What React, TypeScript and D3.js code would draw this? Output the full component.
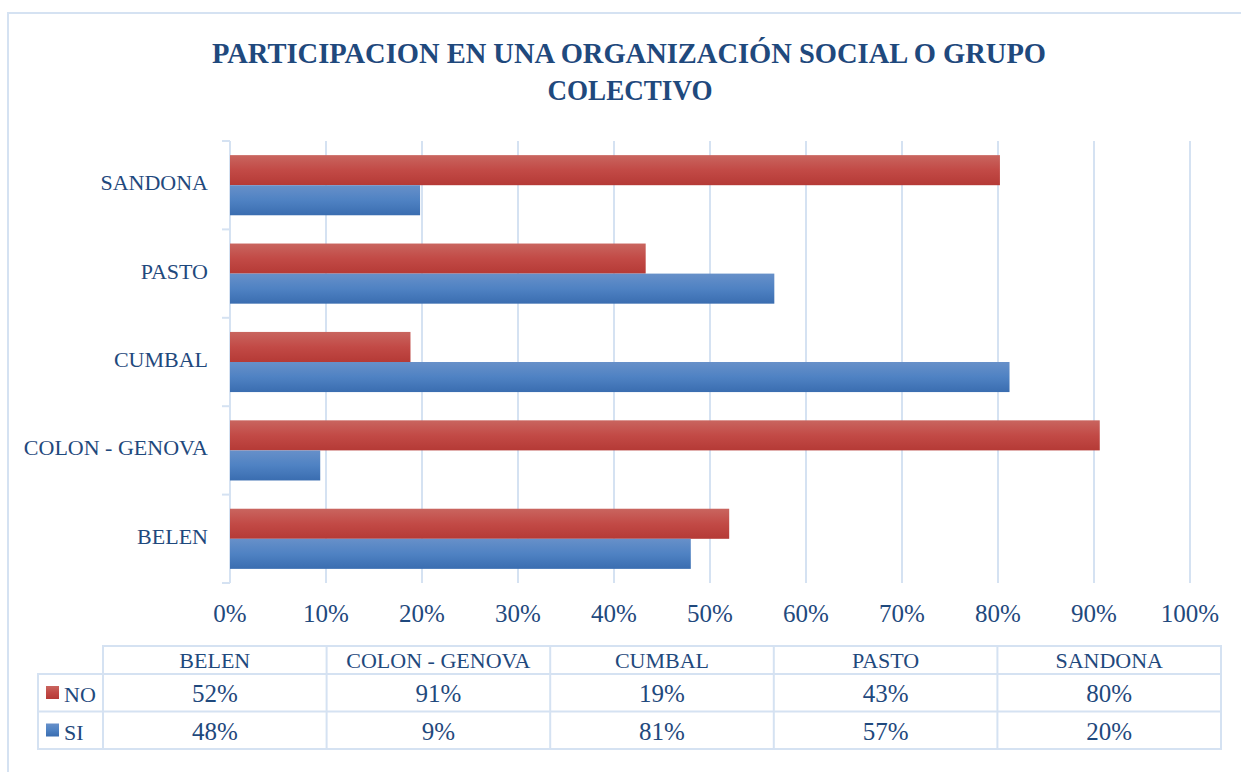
import { useMemo } from "react";
import * as d3 from "d3";

const categories = ["BELEN", "COLON - GENOVA", "CUMBAL", "PASTO", "SANDONA"];
const noValues = [0.52, 0.906, 0.188, 0.433, 0.802];
const siValues = [0.48, 0.094, 0.812, 0.567, 0.198];
const xTicks = [0, 0.1, 0.2, 0.3, 0.4, 0.5, 0.6, 0.7, 0.8, 0.9, 1];

const WIDTH = 1241;
const HEIGHT = 772;
const TEXT = "#1F497D";
const GRID = "#D5E2F2";
const FONT = "'Liberation Serif', 'DejaVu Serif', serif";

const series = [
  { key: "NO", values: noValues, grad: "gradNo" },
  { key: "SI", values: siValues, grad: "gradSi" },
];

const PLOT = { left: 230, right: 1190, top: 141, bottom: 583 };
const TABLE = { left: 103, legendLeft: 38, right: 1221, top: 646, headerH: 28, rowH: 37.5 };

const App = () => {
  const x = useMemo(
    () => d3.scaleLinear().domain([0, 1]).range([PLOT.left, PLOT.right]),
    []
  );
  // categories go bottom to top, like Excel's bar chart
  const y = useMemo(
    () =>
      d3
        .scaleBand<string>()
        .domain([...categories].reverse())
        .range([PLOT.top, PLOT.bottom]),
    []
  );
  const inner = useMemo(
    () => d3.scaleBand<string>().domain(["NO", "SI"]).range([0, y.bandwidth()]).paddingOuter(0.47),
    [y]
  );
  const pct = d3.format(".0%");

  const colW = (TABLE.right - TABLE.left) / categories.length;
  const colX = (i: number) => TABLE.left + i * colW;

  return (
    <svg
      width={WIDTH}
      height={HEIGHT}
      style={{ position: "absolute", left: 0, top: 0, background: "#fff" }}
      fontFamily={FONT}
    >
      <defs>
        <linearGradient id="gradNo" x1="0" y1="0" x2="0" y2="1">
          <stop offset="0%" stopColor="#C9655F" />
          <stop offset="50%" stopColor="#C24A46" />
          <stop offset="100%" stopColor="#B53A36" />
        </linearGradient>
        <linearGradient id="gradSi" x1="0" y1="0" x2="0" y2="1">
          <stop offset="0%" stopColor="#6790C9" />
          <stop offset="50%" stopColor="#4F82C3" />
          <stop offset="100%" stopColor="#3A6DB0" />
        </linearGradient>
      </defs>

      {/* chart area border */}
      <rect x={8} y={13} width={WIDTH} height={HEIGHT} fill="none" stroke={GRID} strokeWidth={2} />

      <text textAnchor="middle" fontWeight={700} fontSize={30} fill={TEXT}>
        <tspan x={629} y={63} textLength={834} lengthAdjust="spacingAndGlyphs">
          PARTICIPACION EN UNA ORGANIZACIÓN SOCIAL O GRUPO
        </tspan>
        <tspan x={630} y={100} textLength={165} lengthAdjust="spacingAndGlyphs">
          COLECTIVO
        </tspan>
      </text>

      {/* gridlines */}
      {xTicks.map((t) => (
        <line key={t} x1={x(t)} x2={x(t)} y1={PLOT.top} y2={PLOT.bottom} stroke={GRID} strokeWidth={2} />
      ))}
      {/* category ticks */}
      {[...categories].reverse().map((c, i) => (
        <line key={c} x1={222} x2={PLOT.left} y1={PLOT.top + i * y.step()} y2={PLOT.top + i * y.step()} stroke={GRID} strokeWidth={2} />
      ))}
      <line x1={222} x2={PLOT.left} y1={PLOT.bottom} y2={PLOT.bottom} stroke={GRID} strokeWidth={2} />

      {/* bars */}
      {series.map((s) =>
        categories.map((c, i) => (
          <rect
            key={s.key + c}
            x={x(0)}
            y={(y(c) ?? 0) + (inner(s.key) ?? 0)}
            width={x(s.values[i]) - x(0)}
            height={inner.bandwidth()}
            fill={`url(#${s.grad})`}
          />
        ))
      )}

      {/* category labels */}
      {categories.map((c) => (
        <text
          key={c}
          x={208}
          y={(y(c) ?? 0) + y.bandwidth() / 2}
          textAnchor="end"
          dominantBaseline="middle"
          fontSize={22}
          fill={TEXT}
        >
          {c}
        </text>
      ))}

      {/* x tick labels */}
      {xTicks.map((t) => (
        <text key={t} x={x(t)} y={622} textAnchor="middle" fontSize={25} fill={TEXT}>
          {pct(t)}
        </text>
      ))}

      {/* data table */}
      <g stroke={GRID} strokeWidth={2} fill="none">
        <rect x={TABLE.left} y={TABLE.top} width={TABLE.right - TABLE.left} height={TABLE.headerH + 2 * TABLE.rowH} />
        <rect x={TABLE.legendLeft} y={TABLE.top + TABLE.headerH} width={TABLE.left - TABLE.legendLeft} height={2 * TABLE.rowH} />
        <line x1={TABLE.legendLeft} x2={TABLE.right} y1={TABLE.top + TABLE.headerH} y2={TABLE.top + TABLE.headerH} />
        <line x1={TABLE.legendLeft} x2={TABLE.right} y1={TABLE.top + TABLE.headerH + TABLE.rowH} y2={TABLE.top + TABLE.headerH + TABLE.rowH} />
        {categories.slice(1).map((c, i) => (
          <line key={c} x1={colX(i + 1)} x2={colX(i + 1)} y1={TABLE.top} y2={TABLE.top + TABLE.headerH + 2 * TABLE.rowH} />
        ))}
      </g>
      {categories.map((c, i) => (
        <text key={c} x={colX(i) + colW / 2} y={TABLE.top + 22} textAnchor="middle" fontSize={22} fill={TEXT}>
          {c}
        </text>
      ))}
      {series.map((s, r) => {
        const rowY = TABLE.top + TABLE.headerH + r * TABLE.rowH;
        return (
          <g key={s.key}>
            <rect x={46} y={rowY + 12} width={13} height={13} fill={`url(#${s.grad})`} />
            <text x={64} y={rowY + 28} fontSize={22} fill={TEXT}>
              {s.key}
            </text>
            {categories.map((c, i) => (
              <text key={c} x={colX(i) + colW / 2} y={rowY + 28} textAnchor="middle" fontSize={25} fill={TEXT}>
                {pct(s.values[i])}
              </text>
            ))}
          </g>
        );
      })}
    </svg>
  );
};

export default App;
